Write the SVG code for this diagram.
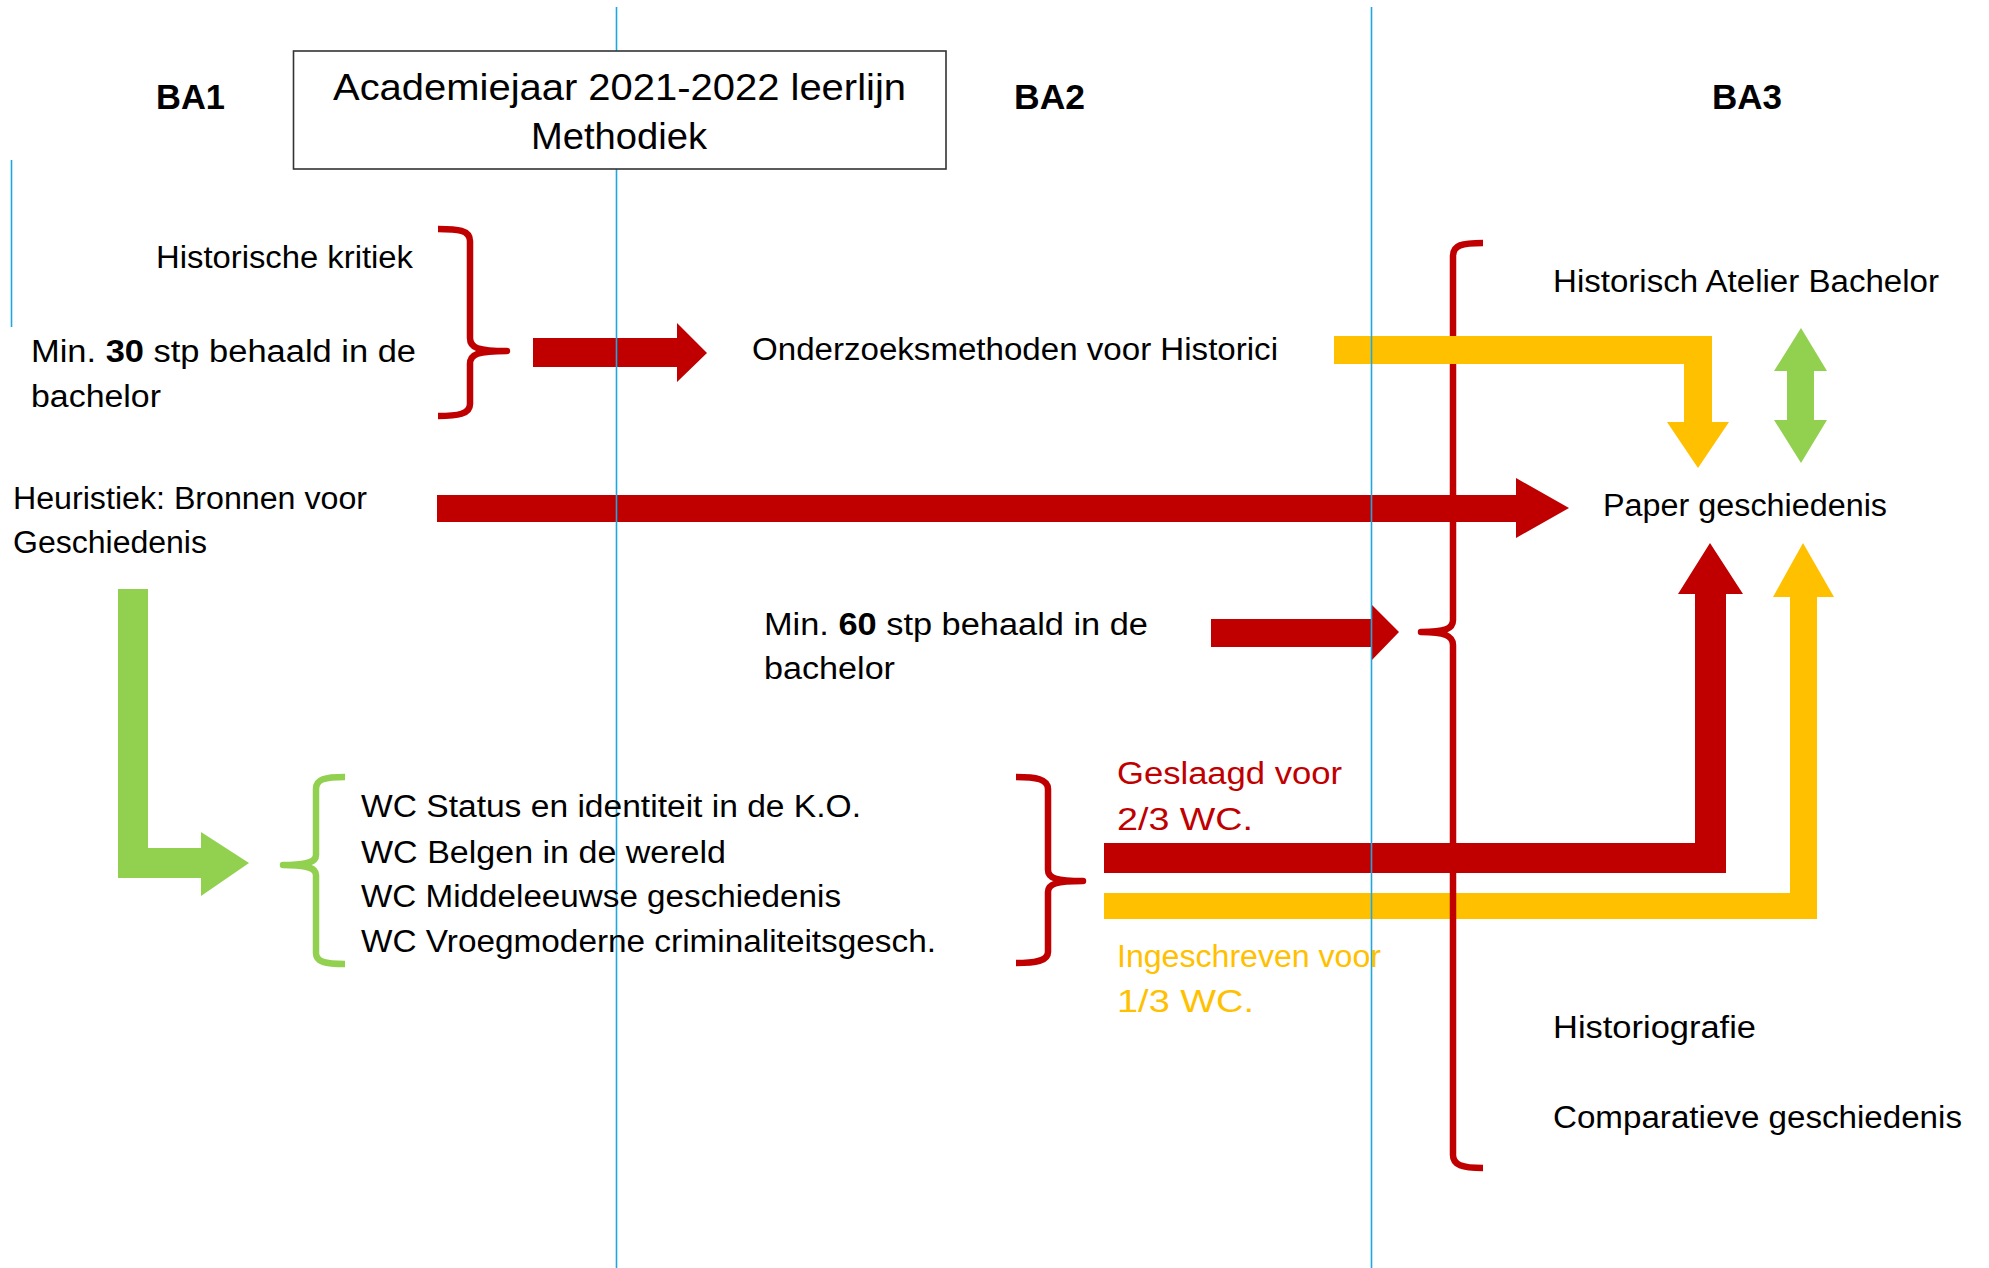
<svg xmlns="http://www.w3.org/2000/svg" width="1989" height="1268" viewBox="0 0 1989 1268">
<style>
.t{font-family:"Liberation Sans",Arial,sans-serif;font-size:31px;fill:#000}
.ttl{font-family:"Liberation Sans",Arial,sans-serif;font-size:37px;fill:#000}
.ba{font-family:"Liberation Sans",Arial,sans-serif;font-size:35px;font-weight:bold;fill:#000}
.red{fill:#C00000}
.yel{fill:#FFC000}
.grn{fill:#92D050}
.br{fill:none;stroke-width:6.5;stroke-linejoin:round}
.guide{stroke:#1FA7E1;stroke-width:1.6}
</style>
<rect width="1989" height="1268" fill="#fff"/>
<g id="connectors">
  <polygon id="arrow-hk" class="red" points="533,338 677,338 677,323 707,353 677,382 677,367 533,367"/>
  <polygon id="arrow-heuristiek" class="red" points="437,495 1516,495 1516,478 1569,508 1516,538 1516,522 437,522"/>
  <polygon id="arrow-min60" class="red" points="1211,619 1371,619 1371,604 1399,632 1371,661 1371,647 1211,647"/>
  <polygon id="arrow-green-l" class="grn" points="118,589 148,589 148,848 201,848 201,832 249,863 201,896 201,878 118,878"/>
  <polygon id="arrow-green-double" class="grn" points="1801,328 1827,371 1814,371 1814,420 1827,420 1801,463 1774,420 1787,420 1787,371 1774,371"/>
  <polygon id="arrow-yellow-up" class="yel" points="1104,893 1790,893 1790,597 1773,597 1803,543 1834,597 1817,597 1817,919 1104,919"/>
  <path id="brace-ba3" class="br" stroke="#C00000" d="M1483,243 C1462,243 1453,245 1453,256 L1453,620 C1453,629 1445,632 1421,632 C1445,632 1453,636 1453,645 L1453,1155 C1453,1165 1462,1168 1483,1168"/>
  <polygon id="arrow-red-up" class="red" points="1104,843 1695,843 1695,594 1678,594 1710,543 1743,594 1726,594 1726,873 1104,873"/>
  <polygon id="arrow-yellow-down" class="yel" points="1334,336 1712,336 1712,422 1729,422 1698,468 1667,422 1684,422 1684,364 1334,364"/>
  <path id="brace-hk" class="br" stroke="#C00000" d="M438,229 C458,229 470,230 470,241 L470,338 C470,348 478,351 507,351 C478,351 470,354 470,364 L470,404 C470,414 458,416 438,416"/>
  <path id="brace-wc-red" class="br" stroke="#C00000" d="M1016,777 C1036,777 1048,779 1048,789 L1048,870 C1048,878 1056,881 1083,881 C1056,881 1048,884 1048,892 L1048,952 C1048,961 1036,963 1016,963"/>
  <path id="brace-wc-green" class="br" stroke="#92D050" d="M345,777 C325,777 316,779 316,789 L316,855 C316,862 308,865 283,865 C308,865 316,868 316,875 L316,953 C316,962 325,964 345,964"/>
</g>
<g id="guides">
  <line class="guide" x1="616.5" y1="7" x2="616.5" y2="1268"/>
  <line class="guide" x1="1371.5" y1="7" x2="1371.5" y2="1268"/>
  <line class="guide" x1="11.5" y1="160" x2="11.5" y2="327" stroke-width="2.5"/>
</g>
<g id="title">
  <rect x="293.5" y="51" width="652.5" height="118" fill="#fff" stroke="#333" stroke-width="1.6"/>
  <text class="ttl" x="333" y="99.5" textLength="573" lengthAdjust="spacingAndGlyphs">Academiejaar 2021-2022 leerlijn</text>
  <text class="ttl" x="531" y="148.5" textLength="176" lengthAdjust="spacingAndGlyphs">Methodiek</text>
</g>
<g id="ba1"><text class="ba" x="156" y="109" textLength="69" lengthAdjust="spacingAndGlyphs">BA1</text></g>
<g id="ba2"><text class="ba" x="1014" y="109" textLength="71" lengthAdjust="spacingAndGlyphs">BA2</text></g>
<g id="ba3"><text class="ba" x="1712" y="109" textLength="70" lengthAdjust="spacingAndGlyphs">BA3</text></g>
<g id="historische-kritiek"><text class="t" x="156" y="268" textLength="257" lengthAdjust="spacingAndGlyphs">Historische kritiek</text></g>
<g id="min30">
  <text class="t" x="31" y="362" textLength="385" lengthAdjust="spacingAndGlyphs">Min. <tspan font-weight="bold">30</tspan> stp behaald in de</text>
  <text class="t" x="31" y="407" textLength="130" lengthAdjust="spacingAndGlyphs">bachelor</text>
</g>
<g id="onderzoeksmethoden"><text class="t" x="752" y="360" textLength="526" lengthAdjust="spacingAndGlyphs">Onderzoeksmethoden voor Historici</text></g>
<g id="heuristiek">
  <text class="t" x="13" y="509" textLength="354" lengthAdjust="spacingAndGlyphs">Heuristiek: Bronnen voor</text>
  <text class="t" x="13" y="553" textLength="194" lengthAdjust="spacingAndGlyphs">Geschiedenis</text>
</g>
<g id="min60">
  <text class="t" x="764" y="635" textLength="384" lengthAdjust="spacingAndGlyphs">Min. <tspan font-weight="bold">60</tspan> stp behaald in de</text>
  <text class="t" x="764" y="679" textLength="131" lengthAdjust="spacingAndGlyphs">bachelor</text>
</g>
<g id="wc-list">
  <text class="t" x="361" y="817" textLength="500" lengthAdjust="spacingAndGlyphs">WC Status en identiteit in de K.O.</text>
  <text class="t" x="361" y="863" textLength="365" lengthAdjust="spacingAndGlyphs">WC Belgen in de wereld</text>
  <text class="t" x="361" y="907" textLength="480" lengthAdjust="spacingAndGlyphs">WC Middeleeuwse geschiedenis</text>
  <text class="t" x="361" y="952" textLength="575" lengthAdjust="spacingAndGlyphs">WC Vroegmoderne criminaliteitsgesch.</text>
</g>
<g id="geslaagd">
  <text class="t" x="1117" y="784" fill="#C00000" style="fill:#C00000" textLength="225" lengthAdjust="spacingAndGlyphs">Geslaagd voor</text>
  <text class="t" x="1117" y="830" style="fill:#C00000" textLength="136" lengthAdjust="spacingAndGlyphs">2/3 WC.</text>
</g>
<g id="ingeschreven">
  <text class="t" x="1117" y="967" style="fill:#FFC000" textLength="264" lengthAdjust="spacingAndGlyphs">Ingeschreven voor</text>
  <text class="t" x="1117" y="1012" style="fill:#FFC000" textLength="137" lengthAdjust="spacingAndGlyphs">1/3 WC.</text>
</g>
<g id="historisch-atelier"><text class="t" x="1553" y="292" textLength="386" lengthAdjust="spacingAndGlyphs">Historisch Atelier Bachelor</text></g>
<g id="paper"><text class="t" x="1603" y="516" textLength="284" lengthAdjust="spacingAndGlyphs">Paper geschiedenis</text></g>
<g id="historiografie"><text class="t" x="1553" y="1038" textLength="203" lengthAdjust="spacingAndGlyphs">Historiografie</text></g>
<g id="comparatieve"><text class="t" x="1553" y="1128" textLength="409" lengthAdjust="spacingAndGlyphs">Comparatieve geschiedenis</text></g>
</svg>
